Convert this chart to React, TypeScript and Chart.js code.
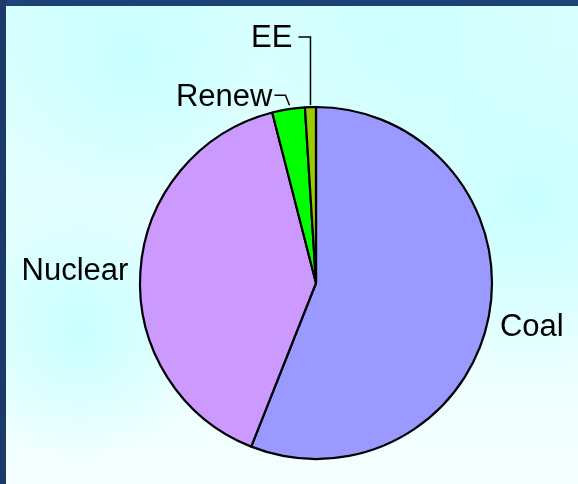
import React, { useEffect, useRef } from "react";
import { Chart, registerables } from "chart.js";

Chart.register(...registerables);

const categories = ["Coal", "Nuclear", "Renew", "EE"];
const shares = [56, 40, 3, 1];
const colors = ["#9999ff", "#cc99ff", "#00ff00", "#99cc00"];

const FONT = '31px "Liberation Sans", Arial, sans-serif';

const outsideLabels = {
  id: "outsideLabels",
  afterDatasetsDraw(chart: any) {
    const ctx = chart.ctx;
    const meta = chart.getDatasetMeta(0);
    ctx.save();
    ctx.font = FONT;
    ctx.fillStyle = "#000";
    ctx.strokeStyle = "#000";
    ctx.lineWidth = 1.5;
    ctx.textBaseline = "middle";
    meta.data.forEach((arc: any, i: number) => {
      const { x, y, startAngle, endAngle, outerRadius } = arc.getProps(
        ["x", "y", "startAngle", "endAngle", "outerRadius"],
        true
      );
      const mid = (startAngle + endAngle) / 2;
      const ex = x + Math.cos(mid) * outerRadius;
      const ey = y + Math.sin(mid) * outerRadius;
      const label = categories[i];
      if (i === 0) {
        ctx.textAlign = "left";
        ctx.fillText(label, ex + 11, ey + 11);
      } else if (i === 1) {
        ctx.textAlign = "right";
        ctx.fillText(label, ex - 12, ey);
      } else if (i === 2) {
        const ly = ey - 14;
        ctx.beginPath();
        ctx.moveTo(ex + 1, ey - 4);
        ctx.lineTo(ex - 3, ly);
        ctx.lineTo(ex - 14, ly);
        ctx.stroke();
        ctx.textAlign = "right";
        ctx.fillText(label, ex - 16, ly + 2);
      } else if (i === 3) {
        const ly = ey - 70;
        ctx.beginPath();
        ctx.moveTo(ex, ey - 2);
        ctx.lineTo(ex, ly);
        ctx.lineTo(ex - 12, ly);
        ctx.stroke();
        ctx.textAlign = "right";
        ctx.fillText(label, ex - 18, ly + 1);
      }
    });
    ctx.restore();
  },
};

export default function App() {
  const ref = useRef<HTMLCanvasElement | null>(null);
  useEffect(() => {
    if (!ref.current) return;
    const chart = new Chart(ref.current, {
      type: "pie",
      data: {
        labels: categories,
        datasets: [
          {
            data: shares,
            backgroundColor: colors,
            borderColor: "#000",
            borderWidth: 2.2,
            borderAlign: "center",
          },
        ],
      },
      options: {
        responsive: false,
        animation: false,
        radius: 176,
        layout: { padding: { left: 140, right: 86, top: 107, bottom: 25 } },
        plugins: {
          legend: { display: false },
          tooltip: { enabled: false },
        },
      } as any,
      plugins: [outsideLabels],
    });
    return () => chart.destroy();
  }, []);

  const bg =
    "radial-gradient(circle at 130px 60px, rgba(200,255,255,1) 0px, rgba(200,255,255,0) 140px)," +
    "radial-gradient(circle at 80px 330px, rgba(200,255,255,1) 0px, rgba(200,255,255,0) 130px)," +
    "radial-gradient(circle at 530px 200px, rgba(200,255,255,1) 0px, rgba(200,255,255,0) 180px)," +
    "radial-gradient(circle at 400px 40px, rgba(205,255,255,1) 0px, rgba(205,255,255,0) 160px)," +
    "linear-gradient(to bottom, #d8ffff, #f4ffff)";

  return (
    <div
      style={{
        position: "fixed",
        left: 0,
        top: 0,
        width: 578,
        height: 484,
        background: bg,
        overflow: "hidden",
      }}
    >
      <div style={{ position: "absolute", left: 0, top: 0, width: 578, height: 6, background: "#1b4377" }} />
      <div style={{ position: "absolute", left: 0, top: 0, width: 6, height: 484, background: "#1b3a6a" }} />
      <canvas
        ref={ref}
        width={578}
        height={484}
        style={{ position: "absolute", left: 0, top: 0, width: 578, height: 484 }}
      />
    </div>
  );
}
